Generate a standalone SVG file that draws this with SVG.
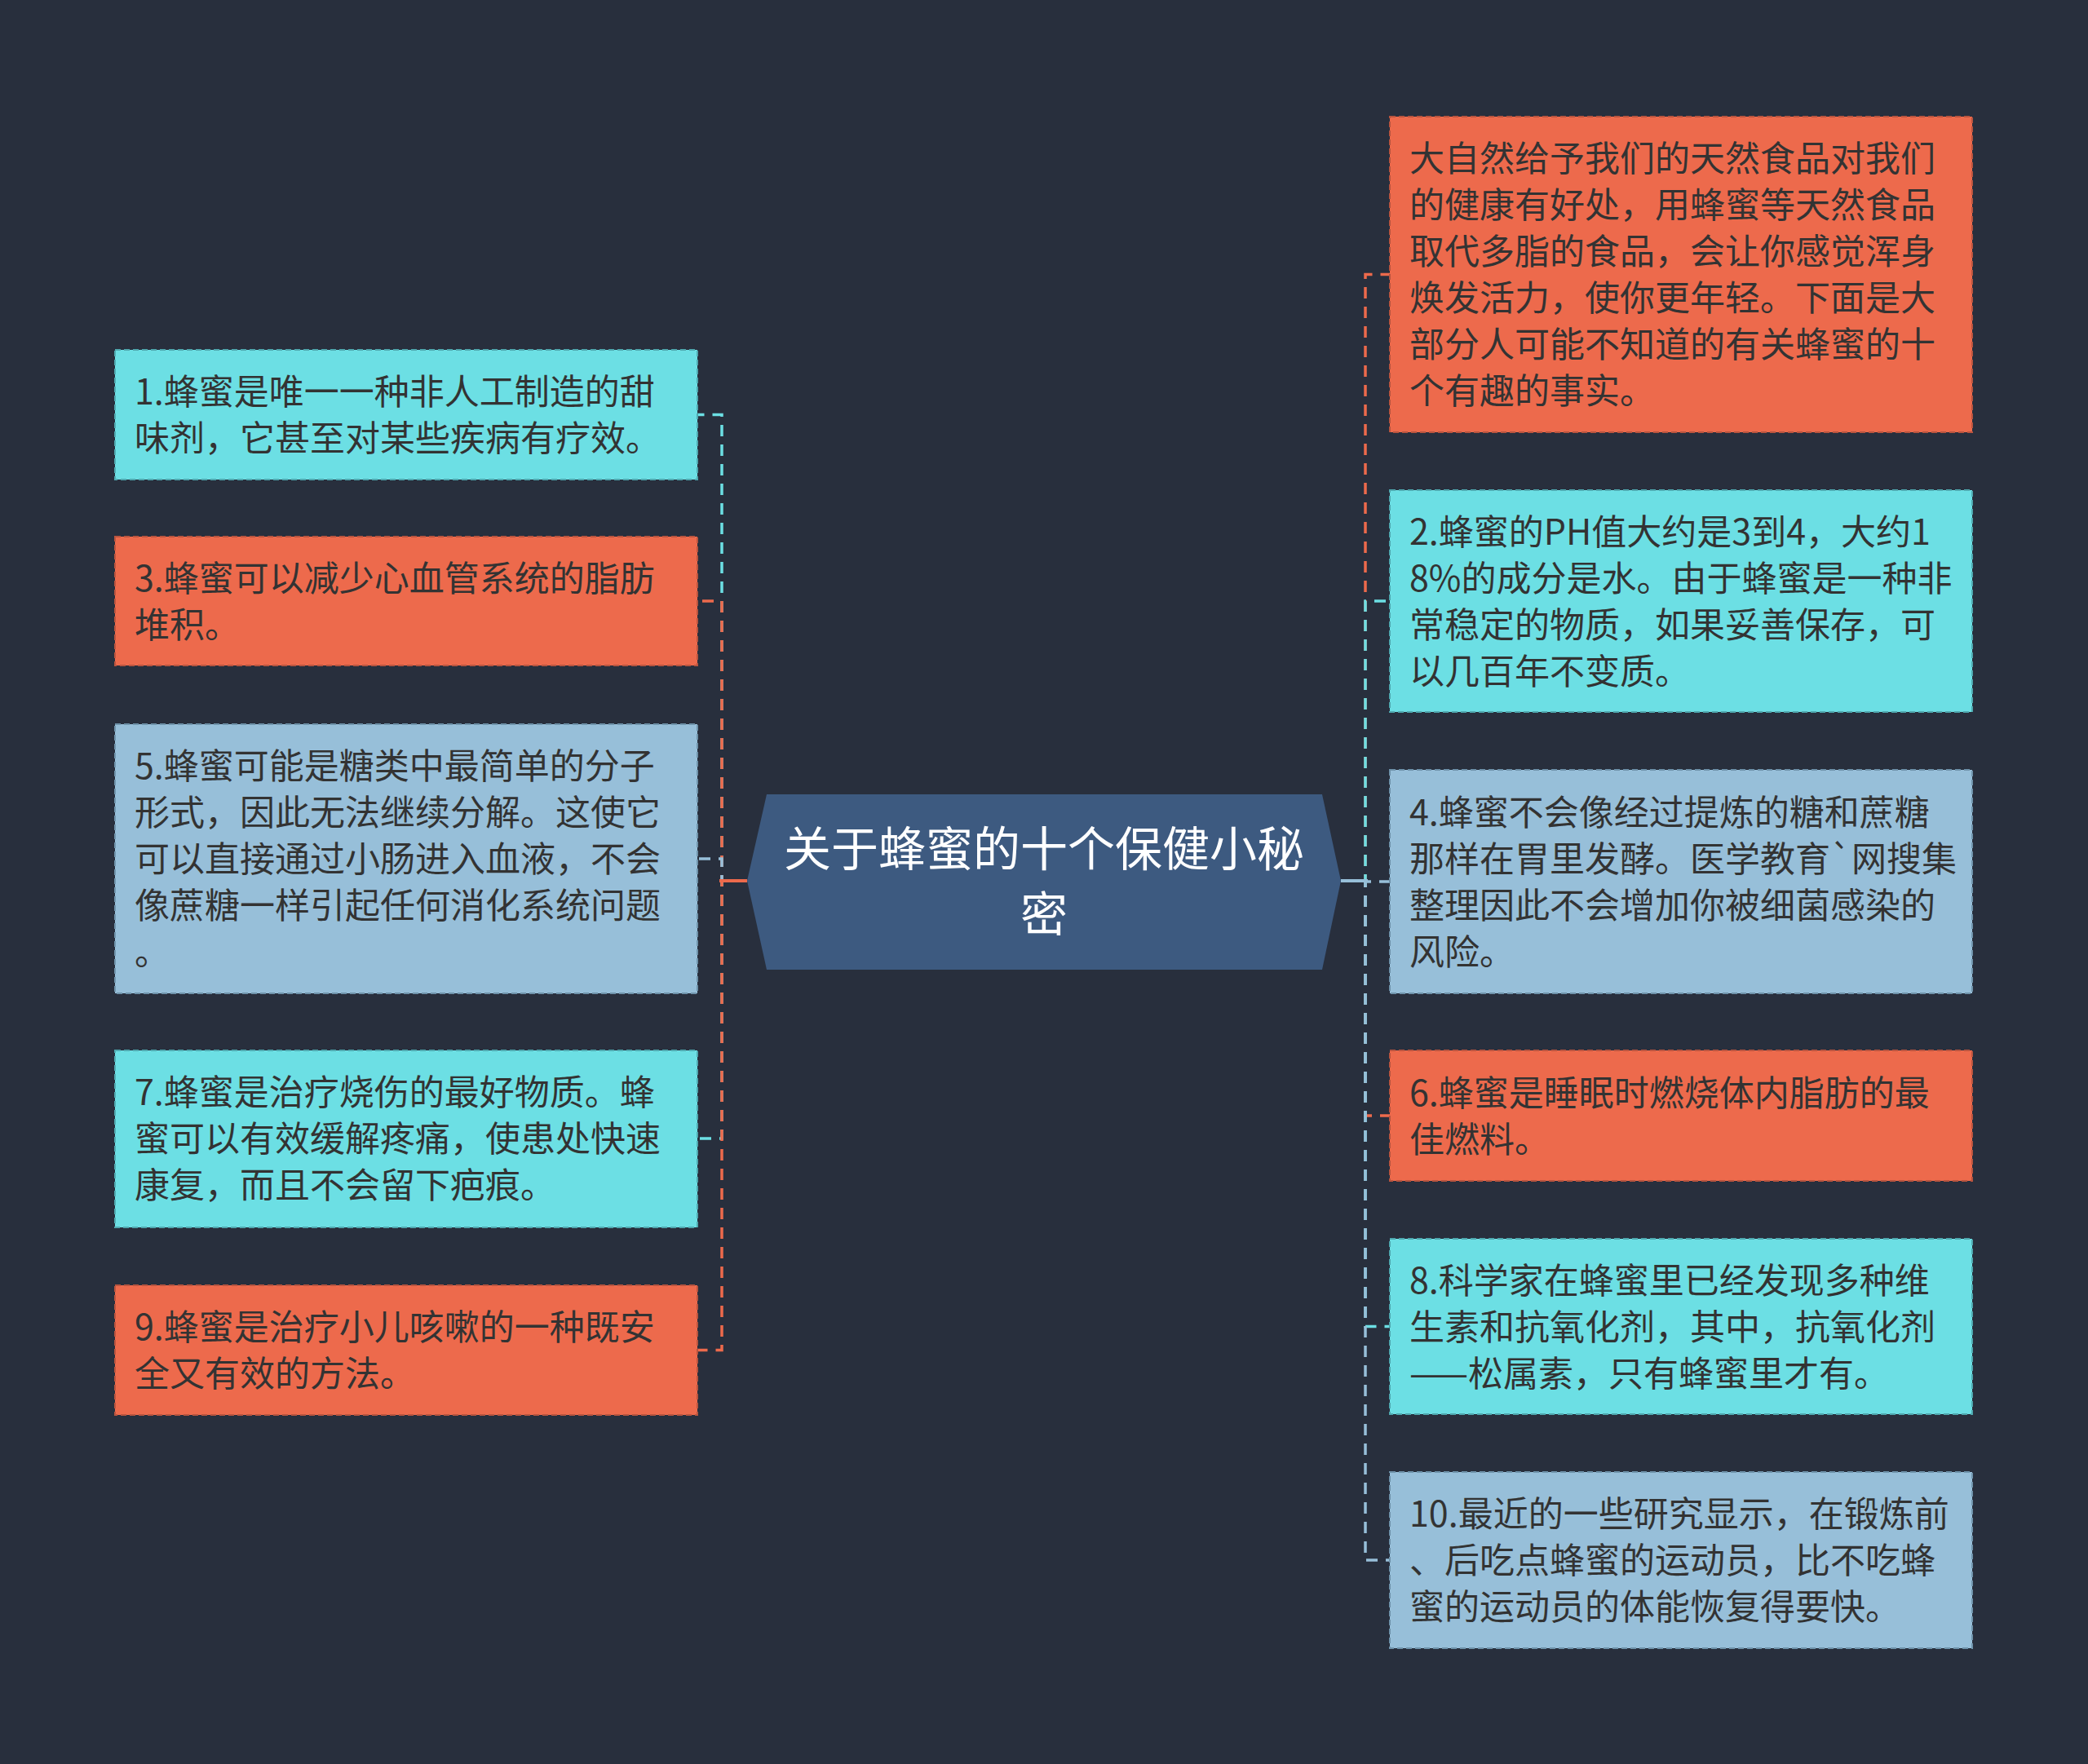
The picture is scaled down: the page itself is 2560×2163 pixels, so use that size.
<svg xmlns="http://www.w3.org/2000/svg" width="2560" height="2163" viewBox="0 0 2560 2163">
<style>
.bg{fill:#282f3d}
.box{stroke-width:2;stroke-dasharray:7 4}
.or{fill:#ed6a4c;stroke:#b9543f}
.cy{fill:#6cdfe4;stroke:#4fa9b0}
.bl{fill:#97bfd9;stroke:#6f93ab}
.t{font-family:"Noto Sans CJK SC","Noto Sans",sans-serif;font-size:43px;fill:#333333}
.ct{font-family:"Noto Sans CJK SC","Noto Sans",sans-serif;font-size:58px;fill:#ffffff;text-anchor:middle}
.c{fill:none;stroke-width:3.5;stroke-dasharray:14 10}
.co{stroke:#ed6a4c}.cc{stroke:#6cdfe4}.cb{stroke:#97bfd9}
</style>
<rect class="bg" x="0" y="0" width="2560" height="2163"/>
<g id="connectors">
<path class="c cc" d="M916,1080 H885 V508.5 H855"/>
<path class="c co" d="M916,1080 H885 V737 H855"/>
<path class="c cb" d="M916,1080 H885 V1053 H855"/>
<path class="c cc" d="M916,1080 H885 V1396 H855"/>
<path class="c co" d="M916,1080 H885 V1655.5 H855"/>
<path d="M916,1080 H882" stroke="#ed6a4c" stroke-width="4" fill="none"/>
<path class="c co" d="M1644,1080 H1674 V336.5 H1704"/>
<path class="c cc" d="M1644,1080 H1674 V737 H1704"/>
<path class="c cb" d="M1644,1080 H1674 V1081 H1704"/>
<path class="c co" d="M1644,1080 H1674 V1368 H1704"/>
<path class="c cc" d="M1644,1080 H1674 V1626.5 H1704"/>
<path class="c cb" d="M1644,1080 H1674 V1913 H1704"/>
<path d="M1644,1080 H1677" stroke="#97bfd9" stroke-width="4" fill="none"/>
</g>
<g id="center">
<polygon points="940,974 1621,974 1644,1080 1621,1189 940,1189 916,1080" fill="#3d5a80"/>
<text class="ct" x="1280" y="1062">关于蜂蜜的十个保健小秘</text>
<text class="ct" x="1280" y="1142">密</text>
</g>
<g id="n1">
<rect class="box cy" x="141" y="429" width="714" height="159"/>
<text class="t" x="165" y="496">1.蜂蜜是唯一一种非人工制造的甜</text>
<text class="t" x="165" y="553">味剂，它甚至对某些疾病有疗效。</text>
</g>
<g id="n3">
<rect class="box or" x="141" y="658" width="714" height="158"/>
<text class="t" x="165" y="725">3.蜂蜜可以减少心血管系统的脂肪</text>
<text class="t" x="165" y="782">堆积。</text>
</g>
<g id="n5">
<rect class="box bl" x="141" y="888" width="714" height="330"/>
<text class="t" x="165" y="955">5.蜂蜜可能是糖类中最简单的分子</text>
<text class="t" x="165" y="1012">形式，因此无法继续分解。这使它</text>
<text class="t" x="165" y="1069">可以直接通过小肠进入血液，不会</text>
<text class="t" x="165" y="1126">像蔗糖一样引起任何消化系统问题</text>
<text class="t" x="165" y="1183">。</text>
</g>
<g id="n7">
<rect class="box cy" x="141" y="1288" width="714" height="217"/>
<text class="t" x="165" y="1355">7.蜂蜜是治疗烧伤的最好物质。蜂</text>
<text class="t" x="165" y="1412">蜜可以有效缓解疼痛，使患处快速</text>
<text class="t" x="165" y="1469">康复，而且不会留下疤痕。</text>
</g>
<g id="n9">
<rect class="box or" x="141" y="1576" width="714" height="159"/>
<text class="t" x="165" y="1643">9.蜂蜜是治疗小儿咳嗽的一种既安</text>
<text class="t" x="165" y="1700">全又有效的方法。</text>
</g>
<g id="intro">
<rect class="box or" x="1704" y="143" width="714" height="387"/>
<text class="t" x="1728" y="210">大自然给予我们的天然食品对我们</text>
<text class="t" x="1728" y="267">的健康有好处，用蜂蜜等天然食品</text>
<text class="t" x="1728" y="324">取代多脂的食品，会让你感觉浑身</text>
<text class="t" x="1728" y="381">焕发活力，使你更年轻。下面是大</text>
<text class="t" x="1728" y="438">部分人可能不知道的有关蜂蜜的十</text>
<text class="t" x="1728" y="495">个有趣的事实。</text>
</g>
<g id="n2">
<rect class="box cy" x="1704" y="601" width="714" height="272"/>
<text class="t" x="1728" y="668">2.蜂蜜的PH值大约是3到4，大约1</text>
<text class="t" x="1728" y="725">8%的成分是水。由于蜂蜜是一种非</text>
<text class="t" x="1728" y="782">常稳定的物质，如果妥善保存，可</text>
<text class="t" x="1728" y="839">以几百年不变质。</text>
</g>
<g id="n4">
<rect class="box bl" x="1704" y="944" width="714" height="274"/>
<text class="t" x="1728" y="1012">4.蜂蜜不会像经过提炼的糖和蔗糖</text>
<text class="t" x="1728" y="1069">那样在胃里发酵。医学教育`网搜集</text>
<text class="t" x="1728" y="1126">整理因此不会增加你被细菌感染的</text>
<text class="t" x="1728" y="1183">风险。</text>
</g>
<g id="n6">
<rect class="box or" x="1704" y="1288" width="714" height="160"/>
<text class="t" x="1728" y="1356">6.蜂蜜是睡眠时燃烧体内脂肪的最</text>
<text class="t" x="1728" y="1413">佳燃料。</text>
</g>
<g id="n8">
<rect class="box cy" x="1704" y="1519" width="714" height="215"/>
<text class="t" x="1728" y="1586">8.科学家在蜂蜜里已经发现多种维</text>
<text class="t" x="1728" y="1643">生素和抗氧化剂，其中，抗氧化剂</text>
<text class="t" x="1728" y="1700">——松属素，只有蜂蜜里才有。</text>
</g>
<g id="n10">
<rect class="box bl" x="1704" y="1805" width="714" height="216"/>
<text class="t" x="1728" y="1872">10.最近的一些研究显示，在锻炼前</text>
<text class="t" x="1728" y="1929">、后吃点蜂蜜的运动员，比不吃蜂</text>
<text class="t" x="1728" y="1986">蜜的运动员的体能恢复得要快。</text>
</g>
</svg>
